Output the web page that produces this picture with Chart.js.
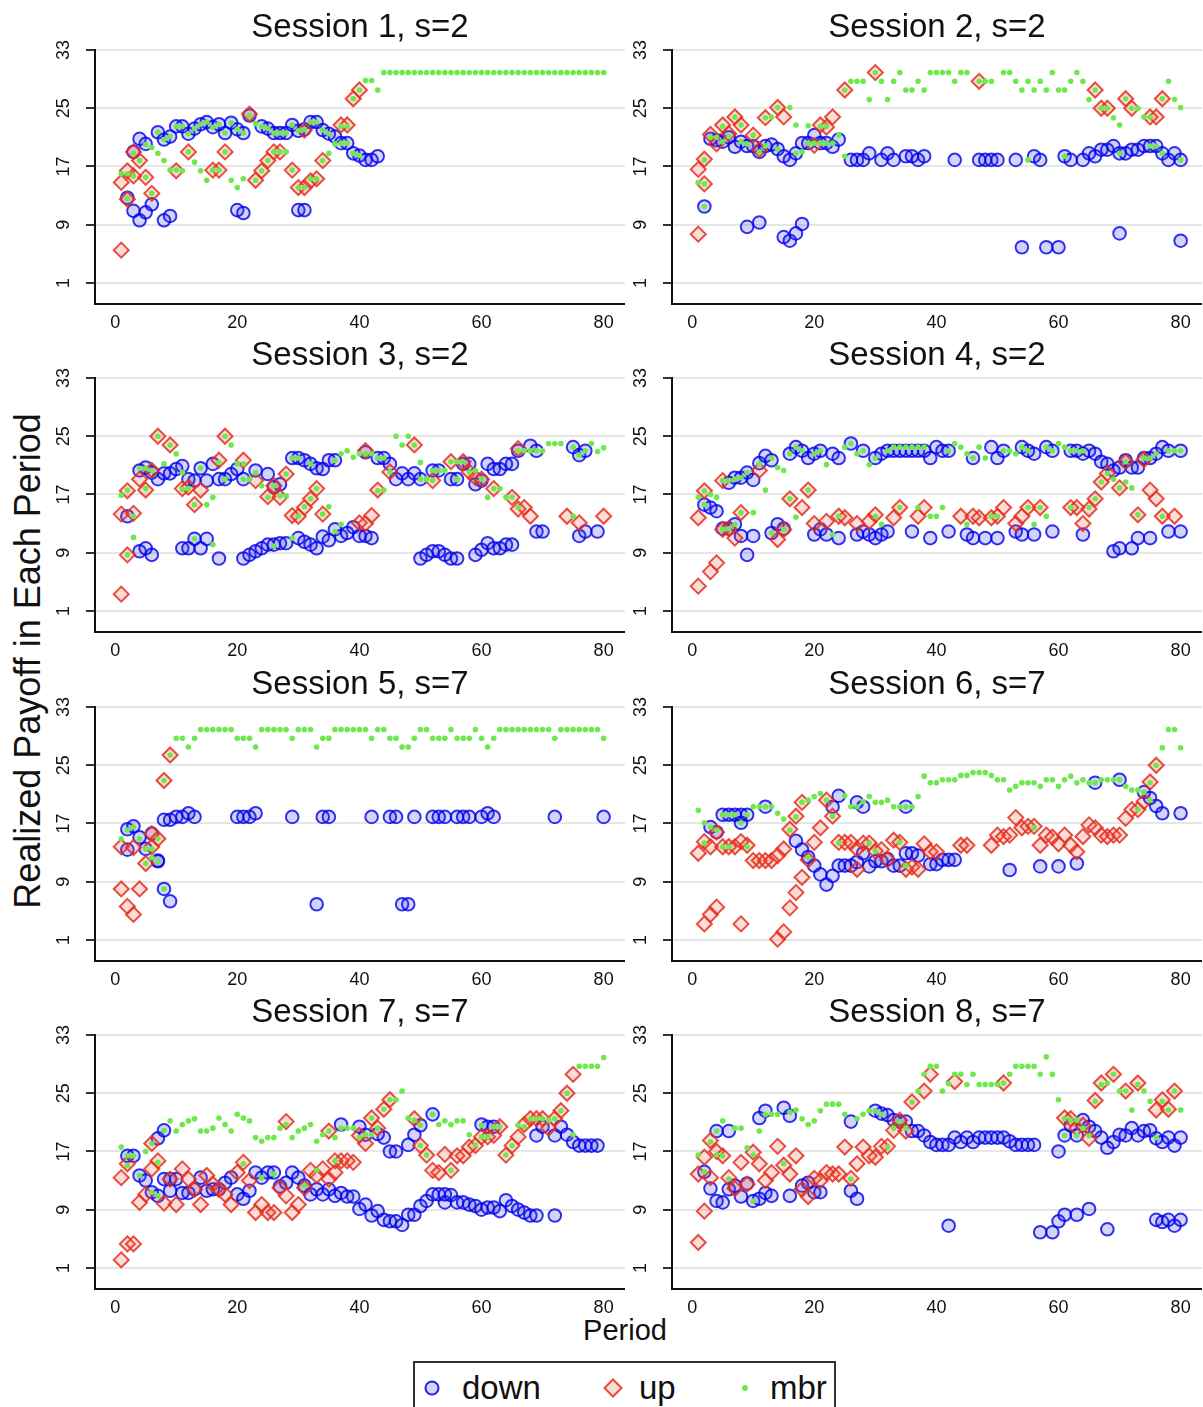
<!DOCTYPE html>
<html>
<head>
<meta charset="utf-8">
<script src="https://cdn.jsdelivr.net/npm/chart.js@4.4.1/dist/chart.umd.min.js"></script>
<style>
  body { margin: 0; background: #fff; width: 1203px; height: 1407px; position: relative; overflow: hidden;
         font-family: "Liberation Sans", Arial, Helvetica, sans-serif; color: #111; }
  .panel { position: absolute; }
  #ylab { position: absolute; left: 28px; top: 661px; transform: translate(-50%, -50%) rotate(-90deg);
          font-size: 36px; white-space: nowrap; }
  #xlab { position: absolute; left: 625px; top: 1330px; transform: translate(-50%, -50%); font-size: 29px; }
  #legend { position: absolute; left: 413px; top: 1361px; width: 419px; height: 60px; border: 2px solid #333; }
  #legend .sym { position: absolute; top: 25px; transform: translate(-50%, -50%); box-sizing: border-box; }
  #legend .txt { position: absolute; top: 25px; transform: translateY(-50%); font-size: 33px; }
  .circ { width: 15px; height: 15px; border-radius: 50%; border: 2px solid rgba(0, 0, 235, 0.85); background: rgba(40, 40, 230, 0.2); }
  .diam { width: 14px; height: 14px; border: 2px solid rgba(228, 48, 30, 0.85); background: rgba(240, 80, 60, 0.2); }
  .dot { width: 6px; height: 6px; border-radius: 50%; background: #6ee84c; }
</style>
</head>
<body>
<div id="ylab">Realized Payoff in Each Period</div>
<div id="xlab">Period</div>
<div id="legend">
  <div class="sym circ" style="left:17px"></div><div class="txt" style="left:47px">down</div>
  <div class="sym diam" style="left:198px;transform:translate(-50%,-50%) rotate(45deg)"></div><div class="txt" style="left:224px">up</div>
  <div class="sym dot" style="left:330px"></div><div class="txt" style="left:355px">mbr</div>
</div>

<script>
// axis ticks
const xTicks = [0, 20, 40, 60, 80];
const yTicks = [1, 9, 17, 25, 33];
const sessionTitles = ['Session 1, s=2', 'Session 2, s=2', 'Session 3, s=2', 'Session 4, s=2',
                       'Session 5, s=7', 'Session 6, s=7', 'Session 7, s=7', 'Session 8, s=7'];

// [period, payoff]
const s1Down = [[2,12.7],[3,19.0],[3,10.9],[4,20.8],[4,9.6],[5,20.1],[5,10.7],[6,11.8],[7,21.7],[8,20.7],[8,9.6],[9,21.1],[9,10.2],[10,22.5],[11,22.5],[12,21.5],[13,22.2],[14,22.8],[15,23.1],[16,22.4],[17,22.8],[18,21.6],[19,23.0],[20,22.1],[20,11.0],[21,21.6],[21,10.6],[22,24.0],[24,22.5],[25,22.2],[26,21.6],[27,21.6],[28,21.6],[29,22.7],[30,21.9],[30,11.0],[31,22.1],[31,11.0],[32,23.1],[33,23.1],[34,22.0],[35,21.5],[36,21.1],[37,20.2],[38,20.2],[39,18.8],[40,18.5],[41,17.9],[42,17.9],[43,18.4]];
const s1Up = [[1,14.8],[1,5.5],[2,16.4],[2,12.5],[3,19.0],[3,15.7],[4,17.8],[5,15.5],[6,13.3],[10,16.4],[12,19.0],[16,16.5],[17,16.5],[18,19.0],[22,24.2],[23,15.1],[24,16.4],[25,17.8],[26,19.0],[27,19.0],[29,16.5],[30,14.1],[31,14.1],[31,22.0],[32,15.0],[33,15.3],[34,17.8],[37,22.7],[38,22.7],[39,26.3],[40,27.5]];
const s1Mbr = [[1,16.0],[2,16.0],[2,12.6],[3,15.7],[3,18.8],[4,17.8],[5,15.5],[5,20.0],[6,19.6],[6,13.3],[7,21.7],[7,18.8],[8,20.7],[8,17.8],[9,21.1],[9,16.5],[10,22.5],[10,16.5],[11,22.5],[11,16.4],[12,21.5],[12,19.0],[13,22.2],[13,17.6],[14,22.8],[14,16.4],[15,23.1],[15,15.1],[16,22.4],[16,16.5],[17,22.8],[17,16.5],[18,21.6],[18,19.0],[19,23.0],[19,15.1],[20,22.1],[20,14.1],[21,21.6],[21,15.3],[22,24.0],[23,22.9],[23,15.1],[24,22.5],[24,16.4],[25,22.2],[25,17.8],[26,21.6],[26,19.0],[27,21.6],[27,19.0],[28,21.6],[28,19.0],[29,22.7],[29,16.5],[30,21.9],[30,14.1],[31,22.1],[31,14.1],[32,23.1],[32,15.3],[33,23.1],[33,15.3],[34,22.0],[34,17.8],[35,21.5],[35,18.8],[36,20.1],[37,20.2],[37,22.5],[38,20.2],[38,22.5],[39,26.3],[39,18.8],[40,27.5],[40,18.5],[41,28.8],[42,28.8],[43,27.5],[44,29.9],[45,29.9],[46,29.9],[47,29.9],[48,29.9],[49,29.9],[50,29.9],[51,29.9],[52,29.9],[53,29.9],[54,29.9],[55,29.9],[56,29.9],[57,29.9],[58,29.9],[59,29.9],[60,29.9],[61,29.9],[62,29.9],[63,29.9],[64,29.9],[65,29.9],[66,29.9],[67,29.9],[68,29.9],[69,29.9],[70,29.9],[71,29.9],[72,29.9],[73,29.9],[74,29.9],[75,29.9],[76,29.9],[77,29.9],[78,29.9],[79,29.9],[80,29.9]];

const s2Down = [[2,11.5],[3,20.8],[4,20.6],[5,20.4],[6,21.0],[7,19.7],[8,20.4],[9,19.8],[9,8.7],[10,19.8],[11,19.0],[11,9.3],[12,19.8],[13,20.0],[14,19.4],[15,18.4],[15,7.3],[16,17.9],[16,6.8],[17,18.8],[17,7.8],[18,20.2],[18,9.1],[19,20.2],[20,21.3],[21,20.2],[22,20.2],[23,19.7],[24,20.7],[26,17.9],[27,17.9],[28,17.9],[29,18.8],[31,17.9],[32,18.8],[33,17.9],[35,18.4],[36,18.4],[37,17.9],[38,18.4],[43,17.9],[47,17.9],[48,17.9],[49,17.9],[50,17.9],[53,17.9],[54,5.9],[56,18.4],[57,17.9],[58,5.9],[60,5.9],[61,18.4],[62,17.9],[64,17.9],[65,18.8],[66,18.4],[67,19.3],[68,19.3],[69,19.8],[70,18.8],[70,7.8],[71,18.8],[72,19.3],[73,19.3],[74,19.8],[75,19.8],[76,19.8],[77,18.8],[78,17.9],[79,18.8],[80,17.9],[80,6.8]];
const s2Up = [[1,16.6],[1,7.7],[2,18.0],[2,14.6],[3,21.4],[4,20.1],[5,22.7],[6,21.5],[7,23.8],[8,22.7],[10,21.3],[11,19.3],[12,23.7],[14,25.1],[15,23.8],[20,19.9],[21,22.7],[22,22.4],[23,23.8],[25,27.5],[30,29.9],[47,28.7],[66,27.5],[67,25.0],[68,25.0],[71,26.3],[72,25.0],[75,23.8],[76,23.8],[77,26.3]];
const s2Mbr = [[1,14.8],[2,14.6],[2,17.9],[2,11.5],[3,21.0],[4,21.0],[5,20.4],[5,22.5],[6,21.1],[7,23.8],[8,20.4],[8,22.7],[9,20.1],[10,21.3],[11,19.0],[12,19.8],[12,23.7],[13,23.8],[14,25.1],[14,19.4],[16,25.1],[17,22.7],[17,18.8],[18,19.0],[19,22.6],[19,20.2],[20,20.2],[21,22.5],[21,20.2],[22,22.5],[22,20.2],[23,20.2],[24,21.3],[25,18.4],[25,27.5],[26,28.7],[27,28.7],[28,28.7],[29,26.2],[30,29.9],[31,28.7],[32,26.2],[33,28.7],[34,29.9],[35,27.5],[36,27.5],[37,28.7],[38,27.5],[39,29.9],[40,29.9],[41,29.9],[42,29.9],[43,28.7],[44,29.9],[45,29.9],[47,28.7],[48,28.7],[49,28.7],[51,29.9],[52,29.9],[53,28.7],[54,27.5],[55,28.7],[55,17.9],[56,27.5],[57,28.7],[58,27.5],[59,29.9],[60,27.5],[61,27.5],[61,18.4],[62,28.7],[63,29.9],[64,28.7],[65,26.2],[66,27.5],[67,25.0],[68,25.0],[69,23.7],[70,22.7],[70,18.8],[71,26.3],[72,25.0],[73,25.0],[74,23.8],[75,19.8],[75,23.8],[76,19.8],[77,26.3],[77,18.8],[78,28.7],[79,26.2],[80,25.1],[80,17.9]];

const s3Down = [[2,14.0],[4,9.2],[4,20.3],[5,9.6],[5,20.7],[6,8.7],[6,20.0],[7,19.1],[8,19.9],[9,19.9],[10,20.5],[11,20.9],[11,9.6],[12,19.1],[12,9.6],[13,18.9],[13,10.9],[14,20.6],[14,9.6],[15,18.9],[15,10.9],[16,21.2],[17,19.1],[17,8.2],[18,19.1],[19,19.8],[20,20.5],[21,19.1],[21,8.2],[22,8.7],[23,20.3],[23,9.2],[24,9.6],[25,19.8],[25,10.1],[26,10.1],[26,18.0],[27,10.3],[27,18.4],[28,10.3],[29,22.0],[30,22.0],[30,11.0],[31,21.7],[31,10.5],[32,21.2],[32,10.1],[33,20.6],[33,9.6],[34,20.5],[34,11.2],[35,21.7],[35,10.7],[36,21.7],[36,12.2],[37,11.3],[38,11.7],[39,12.5],[40,11.3],[41,22.8],[41,11.3],[42,11.0],[43,22.0],[44,22.0],[45,21.2],[46,19.1],[47,19.9],[48,19.1],[49,19.9],[50,19.1],[50,8.2],[51,8.7],[52,20.3],[52,9.2],[53,20.3],[53,9.2],[54,8.7],[55,19.1],[55,8.2],[56,19.1],[56,8.2],[57,21.2],[58,21.2],[59,18.4],[59,8.7],[60,18.9],[60,9.4],[61,21.2],[61,10.3],[62,20.5],[62,9.6],[63,20.5],[63,9.6],[64,21.2],[64,10.1],[65,21.2],[65,10.1],[66,23.0],[68,23.7],[69,23.0],[69,11.9],[70,11.9],[75,23.5],[76,22.4],[76,11.3],[77,23.0],[77,11.9],[79,11.9]];
const s3Up = [[1,14.3],[1,3.3],[2,17.5],[2,8.7],[3,14.4],[4,19.1],[5,17.6],[6,20.3],[7,25.0],[9,23.8],[11,17.8],[12,18.0],[13,15.6],[14,17.6],[17,21.7],[18,25.0],[21,21.7],[23,18.9],[25,16.7],[26,18.2],[27,16.6],[28,19.8],[29,14.1],[30,14.0],[31,15.2],[32,16.4],[33,17.8],[34,14.3],[40,13.1],[41,23.0],[41,13.0],[42,14.1],[43,17.6],[45,20.1],[49,23.8],[52,18.9],[55,21.5],[57,21.5],[58,20.1],[59,19.3],[60,19.1],[62,17.8],[65,16.6],[66,15.0],[66,23.3],[67,15.2],[68,14.0],[74,14.0],[76,13.1],[80,14.0]];
const s3Mbr = [[1,16.9],[2,17.6],[2,8.7],[3,14.0],[3,11.1],[4,20.6],[5,17.8],[5,20.6],[6,20.3],[7,25.0],[8,21.2],[9,23.8],[10,22.6],[11,20.0],[11,17.7],[12,17.8],[13,15.6],[13,10.9],[14,20.6],[15,15.6],[16,16.6],[16,10.1],[17,21.4],[18,25.0],[18,19.1],[19,23.8],[20,21.2],[21,21.2],[21,19.1],[22,19.1],[23,20.0],[24,18.2],[25,16.6],[26,18.2],[26,9.9],[27,16.8],[28,16.8],[28,19.8],[29,11.0],[29,22.0],[30,14.0],[30,22.0],[31,15.3],[32,16.4],[32,21.2],[33,17.8],[34,14.3],[35,15.3],[36,11.9],[36,21.7],[37,12.9],[37,22.6],[38,23.0],[39,22.1],[40,22.6],[41,22.6],[42,22.6],[43,17.5],[43,22.0],[44,17.6],[44,22.0],[45,20.1],[46,25.0],[47,23.8],[48,25.0],[49,23.8],[50,21.4],[50,19.1],[51,19.1],[52,20.3],[52,18.9],[53,20.3],[54,20.3],[55,21.5],[56,21.5],[56,19.1],[57,21.5],[58,20.1],[59,20.3],[60,19.1],[61,16.6],[62,17.8],[63,17.8],[64,16.6],[65,16.6],[66,15.2],[66,23.0],[67,23.0],[68,23.0],[69,23.0],[70,23.0],[71,24.0],[72,24.0],[73,24.0],[75,14.0],[75,23.5],[76,22.4],[77,23.0],[78,24.0],[79,22.9],[80,23.4]];

const s4Down = [[2,15.6],[3,15.2],[4,14.7],[5,12.3],[6,12.3],[6,18.6],[7,12.9],[7,19.3],[8,11.3],[8,19.3],[9,8.7],[9,20.0],[10,11.3],[10,19.0],[11,21.3],[12,22.3],[13,21.7],[13,11.7],[14,12.9],[15,12.3],[16,22.6],[17,23.5],[18,23.0],[19,22.0],[20,22.6],[20,11.5],[21,23.0],[21,12.2],[22,11.5],[23,22.6],[24,22.0],[24,11.0],[26,24.0],[27,11.5],[28,23.0],[28,11.9],[29,11.5],[30,22.0],[30,11.0],[31,22.6],[31,11.5],[32,23.0],[32,11.9],[33,23.0],[34,23.0],[35,23.0],[36,23.0],[36,11.9],[37,23.0],[38,23.0],[39,22.0],[39,11.0],[40,23.5],[41,23.0],[42,23.0],[42,11.9],[45,11.5],[46,22.0],[46,11.0],[48,11.0],[49,23.5],[50,22.0],[50,11.0],[51,23.0],[53,11.9],[54,23.5],[54,11.5],[55,23.0],[56,22.6],[56,11.5],[58,23.5],[59,23.0],[59,11.9],[62,23.0],[63,23.0],[64,22.6],[64,11.5],[65,23.0],[66,22.6],[67,21.5],[68,21.2],[69,20.3],[69,9.2],[70,20.7],[70,9.6],[71,21.7],[72,20.7],[72,9.6],[73,20.7],[73,11.0],[74,22.0],[75,22.0],[75,11.0],[76,22.6],[77,23.5],[78,23.0],[78,11.9],[80,23.0],[80,11.9]];
const s4Up = [[1,13.8],[1,4.4],[2,17.5],[3,6.4],[4,7.6],[5,18.9],[5,12.2],[6,12.3],[7,11.0],[8,14.5],[11,20.3],[14,10.8],[15,12.2],[16,16.4],[18,15.2],[19,17.6],[20,13.0],[22,13.3],[24,14.0],[25,13.8],[27,13.0],[29,13.3],[30,14.2],[33,13.8],[34,15.2],[37,14.0],[38,15.2],[44,14.0],[46,14.0],[47,13.8],[49,13.8],[50,14.0],[51,15.2],[53,13.0],[54,14.0],[55,15.2],[57,15.2],[62,15.2],[63,15.2],[64,13.0],[65,15.0],[66,16.4],[67,18.7],[68,19.9],[70,17.9],[71,21.5],[73,14.2],[74,21.8],[75,17.6],[76,16.4],[77,14.0],[79,14.0]];
const s4Mbr = [[1,16.6],[2,17.5],[2,15.6],[3,17.0],[4,16.6],[5,12.2],[5,18.9],[6,12.3],[6,18.9],[7,19.1],[7,12.9],[8,14.5],[8,19.3],[9,20.0],[10,14.5],[11,21.2],[12,17.6],[13,22.0],[13,11.7],[14,20.7],[15,20.3],[15,12.2],[16,16.4],[16,22.6],[17,13.9],[17,23.5],[18,23.0],[19,17.6],[20,22.6],[21,23.0],[22,21.1],[23,11.5],[24,14.0],[25,23.5],[26,24.0],[27,22.6],[28,23.0],[29,21.1],[30,14.0],[30,22.0],[31,12.9],[32,23.0],[33,23.5],[34,23.5],[34,15.2],[35,23.5],[36,23.5],[37,23.5],[37,15.2],[38,23.5],[39,14.0],[40,14.0],[41,15.2],[42,23.0],[43,24.0],[44,23.5],[45,22.6],[45,12.9],[46,22.0],[47,23.5],[48,22.0],[49,14.0],[50,14.0],[51,23.0],[52,23.0],[53,22.6],[54,23.5],[55,23.0],[55,15.2],[56,12.9],[57,15.2],[58,14.0],[58,23.5],[59,23.0],[60,24.0],[61,23.5],[62,23.0],[62,15.2],[63,23.0],[64,23.0],[65,15.2],[66,16.4],[67,18.7],[68,19.9],[69,19.1],[70,17.9],[71,21.5],[71,18.7],[72,17.9],[73,14.2],[74,22.0],[75,22.0],[76,22.6],[77,14.0],[78,23.0],[79,23.0],[80,23.0]];

const s5Down = [[2,16.2],[2,13.4],[3,16.6],[4,15.1],[5,13.5],[6,15.6],[7,11.8],[7,11.9],[8,17.5],[8,8.0],[9,17.5],[9,6.3],[10,17.9],[11,17.9],[12,18.4],[13,17.9],[20,17.9],[21,17.9],[22,17.9],[23,18.4],[29,17.9],[33,5.9],[34,17.9],[35,17.9],[42,17.9],[45,17.9],[46,17.9],[47,5.9],[48,5.9],[49,17.9],[52,17.9],[53,17.9],[54,17.9],[56,17.9],[57,17.9],[58,17.9],[60,17.9],[61,18.4],[62,17.9],[72,17.9],[80,17.9]];
const s5Up = [[1,13.8],[1,8.0],[2,5.6],[3,4.5],[3,13.7],[4,8.0],[5,11.5],[6,15.6],[6,13.8],[7,14.9],[8,22.9],[9,26.4]];
const s5Mbr = [[1,14.9],[2,16.1],[3,16.5],[4,14.9],[5,13.5],[5,11.5],[6,13.5],[6,12.3],[7,14.9],[7,11.8],[8,22.9],[8,8.0],[9,26.4],[10,28.7],[11,28.7],[12,27.5],[13,28.7],[14,29.9],[15,29.9],[16,29.9],[17,29.9],[18,29.9],[19,29.9],[20,28.7],[21,28.7],[22,28.7],[23,27.5],[24,29.9],[25,29.9],[26,29.9],[27,29.9],[28,29.9],[29,28.7],[30,29.9],[31,29.9],[32,29.9],[33,27.5],[34,28.7],[35,28.7],[36,29.9],[37,29.9],[38,29.9],[39,29.9],[40,29.9],[41,29.9],[42,28.7],[43,29.9],[44,29.9],[45,28.7],[46,28.7],[47,27.5],[48,27.5],[49,28.7],[50,29.9],[51,29.9],[52,28.7],[53,28.7],[54,28.7],[55,29.9],[56,28.7],[57,28.7],[58,28.7],[59,29.9],[60,28.7],[61,27.5],[62,28.7],[63,29.9],[64,29.9],[65,29.9],[66,29.9],[67,29.9],[68,29.9],[69,29.9],[70,29.9],[71,29.9],[72,28.7],[73,29.9],[74,29.9],[75,29.9],[76,29.9],[77,29.9],[78,29.9],[79,29.9],[80,28.7]];

const s6Down = [[3,16.5],[4,15.8],[5,18.2],[6,18.2],[7,18.2],[8,18.2],[8,17.1],[9,18.2],[12,19.3],[17,14.6],[18,13.4],[19,12.4],[20,11.2],[21,10.0],[22,8.6],[23,9.8],[23,19.3],[24,20.8],[24,11.2],[25,11.2],[26,11.2],[27,11.7],[27,19.9],[28,19.3],[28,12.9],[29,11.1],[30,11.8],[31,11.8],[32,12.1],[33,11.2],[34,11.2],[35,12.9],[35,19.3],[36,12.9],[37,12.6],[39,11.4],[40,11.4],[41,12.0],[42,12.0],[43,12.0],[52,10.6],[57,11.1],[60,11.1],[63,11.5],[66,22.6],[70,23.0],[74,21.3],[75,20.5],[76,19.4],[77,18.4],[80,18.4]];
const s6Up = [[1,12.9],[2,14.5],[2,3.2],[3,13.8],[3,4.5],[4,15.8],[4,5.5],[5,13.8],[6,13.8],[7,13.8],[8,14.5],[8,3.2],[9,14.0],[10,11.9],[11,11.9],[12,11.9],[13,11.9],[14,12.6],[14,1.1],[15,13.5],[15,2.1],[16,16.2],[16,5.4],[17,18.0],[17,7.5],[18,19.9],[18,9.6],[19,12.0],[20,14.4],[21,16.4],[22,20.2],[23,18.0],[24,14.4],[25,14.4],[26,14.4],[27,13.5],[27,10.7],[28,14.3],[29,14.3],[30,13.2],[31,13.4],[32,12.0],[33,14.7],[34,14.4],[35,10.7],[36,11.0],[37,10.7],[38,14.2],[39,13.1],[40,13.1],[44,14.0],[45,14.0],[49,14.0],[50,15.4],[51,15.2],[52,15.4],[53,17.8],[54,16.4],[55,16.6],[56,16.6],[57,14.0],[58,15.4],[59,15.1],[60,14.2],[61,15.4],[62,14.0],[63,13.1],[64,15.2],[65,16.8],[66,16.4],[67,15.4],[68,15.2],[69,15.4],[70,15.4],[71,17.7],[72,18.9],[73,18.9],[74,20.0],[75,22.7],[76,25.0]];
const s6Mbr = [[1,18.8],[2,17.1],[2,14.3],[3,16.5],[4,16.1],[5,13.8],[5,18.2],[6,13.8],[6,18.2],[7,18.2],[8,17.1],[9,13.8],[9,18.2],[10,19.3],[11,19.3],[12,19.3],[13,19.3],[14,18.4],[15,17.6],[16,16.1],[17,17.9],[18,19.9],[19,12.4],[19,20.2],[20,20.7],[21,21.1],[22,20.2],[23,18.0],[24,14.3],[25,20.8],[26,19.3],[27,19.3],[28,20.0],[29,20.7],[29,14.3],[30,19.9],[30,13.2],[31,19.9],[32,20.2],[33,19.3],[34,19.3],[34,14.4],[35,19.3],[35,11.2],[36,19.3],[37,20.7],[38,23.5],[39,22.6],[40,22.6],[41,23.0],[42,23.0],[43,23.0],[44,23.6],[45,23.6],[46,24.0],[47,24.0],[48,24.0],[49,23.6],[50,23.0],[51,23.0],[52,21.6],[53,22.1],[54,22.6],[55,22.6],[56,22.6],[56,16.4],[57,22.1],[58,23.0],[59,23.0],[60,22.1],[61,23.0],[62,23.5],[63,22.6],[64,23.0],[65,22.6],[66,22.6],[67,23.0],[68,23.0],[69,23.0],[70,23.0],[71,22.1],[72,21.6],[73,21.6],[73,18.9],[74,21.3],[75,22.6],[75,20.2],[76,25.0],[77,27.4],[78,29.9],[79,29.9],[80,27.4]];

const s7Down = [[2,16.4],[3,16.4],[4,13.7],[5,13.0],[6,11.4],[7,10.9],[7,18.8],[8,19.9],[8,13.2],[9,11.6],[9,13.2],[10,13.2],[11,11.3],[12,11.3],[13,11.8],[14,13.4],[15,11.6],[16,11.8],[17,11.8],[18,12.7],[19,13.4],[20,11.1],[21,10.5],[22,11.6],[23,14.1],[24,13.4],[25,14.1],[26,14.1],[27,12.2],[28,12.7],[29,14.1],[30,13.4],[31,12.3],[32,11.1],[33,11.8],[34,11.1],[35,11.8],[36,10.9],[37,11.3],[37,20.7],[38,10.8],[39,10.8],[40,9.1],[40,20.4],[41,9.7],[41,19.3],[42,8.2],[43,8.8],[43,19.4],[44,7.6],[44,18.9],[45,7.4],[45,17.0],[46,7.4],[46,17.0],[47,6.9],[48,8.3],[48,17.9],[49,8.3],[49,19.3],[50,9.5],[50,20.6],[51,10.2],[52,11.1],[52,22.1],[53,11.1],[54,10.0],[54,11.1],[55,11.0],[56,10.0],[57,10.0],[58,9.7],[59,9.5],[60,9.0],[60,20.7],[61,9.3],[61,20.4],[62,9.3],[62,20.4],[63,8.8],[64,10.3],[65,9.5],[66,9.0],[67,8.6],[68,8.2],[69,8.2],[69,19.2],[70,20.4],[72,8.2],[72,19.2],[73,20.4],[74,19.3],[75,18.3],[76,17.8],[77,17.8],[78,17.8],[79,17.8]];
const s7Up = [[1,13.4],[1,2.1],[2,15.3],[2,4.3],[3,4.3],[4,10.0],[5,11.1],[6,18.1],[6,14.6],[7,15.7],[8,9.9],[9,13.2],[10,9.7],[11,14.6],[12,13.2],[13,11.8],[14,9.7],[15,13.7],[16,12.5],[17,11.8],[18,11.1],[19,9.7],[20,14.1],[21,15.5],[22,13.0],[23,8.6],[24,9.7],[25,8.6],[26,8.6],[27,12.0],[28,21.1],[28,10.9],[29,8.6],[30,9.7],[31,12.0],[32,14.4],[33,13.7],[34,14.6],[35,19.8],[35,13.2],[36,15.7],[36,14.1],[37,15.7],[38,15.7],[39,15.5],[40,19.2],[41,18.1],[42,21.6],[43,20.2],[44,22.8],[45,24.1],[49,21.5],[50,17.8],[51,16.5],[52,14.4],[53,14.1],[54,16.6],[55,14.4],[56,16.4],[57,16.4],[58,17.6],[59,17.8],[60,19.0],[61,19.0],[62,19.2],[63,20.4],[64,16.5],[65,17.8],[66,19.0],[67,20.7],[68,21.5],[69,21.5],[70,21.5],[71,20.2],[72,21.5],[73,22.6],[74,25.0],[75,27.6]];
const s7Mbr = [[1,17.6],[2,15.1],[2,16.4],[3,16.4],[4,13.7],[5,17.0],[6,11.4],[6,18.1],[7,15.5],[7,10.9],[8,19.9],[9,21.2],[10,19.8],[11,20.7],[12,21.2],[13,21.5],[14,19.8],[15,19.8],[16,20.2],[17,21.6],[18,20.7],[19,19.8],[20,22.1],[21,21.6],[21,15.3],[22,21.2],[23,18.9],[24,18.4],[24,13.4],[25,18.9],[26,18.9],[26,13.9],[27,20.2],[28,20.7],[29,18.9],[30,19.8],[31,20.2],[31,12.3],[32,20.7],[33,18.4],[33,14.4],[34,19.3],[35,19.8],[36,18.9],[36,15.7],[37,20.2],[38,20.2],[39,20.2],[40,18.9],[41,19.3],[42,19.3],[42,21.6],[43,20.2],[44,22.8],[45,24.1],[46,24.1],[47,25.3],[48,21.6],[49,21.3],[50,17.8],[50,20.6],[51,16.5],[52,22.1],[53,20.7],[54,21.2],[55,20.7],[55,14.4],[56,21.2],[57,21.2],[58,19.3],[59,17.9],[60,19.0],[60,20.6],[61,19.0],[62,20.4],[63,20.4],[64,16.5],[65,17.8],[66,20.6],[67,20.4],[68,21.5],[69,21.5],[70,21.5],[71,21.3],[72,21.5],[73,22.6],[74,25.0],[75,19.3],[76,28.7],[77,28.7],[78,28.7],[79,28.7],[80,29.9]];

const s8Down = [[2,14.2],[3,11.9],[4,19.8],[4,10.2],[5,10.0],[6,19.8],[6,11.8],[7,12.3],[8,10.8],[9,12.6],[10,10.2],[11,21.6],[11,10.5],[12,22.6],[12,11.3],[13,10.9],[15,23.0],[16,21.9],[16,10.9],[18,12.3],[19,12.7],[20,11.4],[21,11.4],[26,21.1],[26,11.6],[27,10.5],[30,22.6],[31,22.2],[32,22.0],[33,21.3],[34,21.1],[35,21.1],[36,19.8],[37,19.8],[38,19.2],[39,18.3],[40,17.9],[41,17.9],[42,17.9],[42,6.8],[43,18.9],[44,18.3],[45,18.9],[46,18.3],[47,18.9],[48,18.9],[49,18.9],[50,18.9],[51,18.9],[52,18.4],[53,17.9],[54,17.9],[55,17.9],[56,17.9],[57,5.9],[59,5.9],[60,17.0],[60,7.4],[61,19.2],[61,8.3],[62,20.6],[63,19.2],[63,8.3],[64,21.3],[65,9.1],[65,20.4],[66,19.8],[67,18.9],[68,17.5],[68,6.3],[69,18.3],[70,19.3],[71,19.2],[72,20.2],[73,19.2],[74,19.8],[75,19.9],[76,18.8],[76,7.6],[77,18.3],[77,7.3],[78,18.9],[78,7.6],[79,17.8],[79,6.8],[80,18.9],[80,7.6]];
const s8Up = [[1,13.9],[1,4.5],[2,16.2],[2,8.8],[3,18.5],[3,13.4],[4,17.0],[5,16.4],[6,13.4],[7,11.9],[8,15.5],[9,12.5],[10,16.9],[11,15.3],[12,13.0],[13,14.1],[14,17.7],[15,15.1],[16,13.9],[17,16.4],[18,11.8],[19,10.8],[20,13.3],[21,13.0],[22,14.1],[23,13.9],[24,13.9],[25,17.6],[26,13.3],[27,15.3],[28,17.6],[29,16.4],[30,16.2],[31,17.7],[32,17.7],[33,19.9],[34,21.3],[35,19.8],[36,23.8],[38,25.3],[39,27.6],[43,26.6],[51,26.4],[61,21.6],[62,21.5],[63,20.2],[64,20.6],[65,18.8],[66,24.0],[67,26.4],[69,27.6],[71,25.3],[73,26.4],[76,22.7],[77,24.1],[78,22.8],[79,25.3]];
const s8Mbr = [[1,16.5],[2,14.2],[3,18.3],[4,16.5],[4,19.8],[5,21.2],[5,16.4],[6,13.2],[7,20.2],[8,20.2],[9,17.5],[10,16.5],[10,10.2],[11,19.8],[12,22.1],[13,22.1],[14,22.1],[15,15.3],[16,22.4],[17,22.7],[18,21.5],[19,20.7],[20,21.2],[21,22.6],[22,23.5],[23,23.5],[24,23.5],[25,22.1],[26,13.2],[27,21.5],[28,22.1],[29,22.6],[30,22.6],[31,22.1],[32,17.6],[33,20.2],[34,21.1],[35,20.2],[36,23.8],[37,25.3],[38,27.6],[39,28.7],[40,28.7],[41,25.3],[42,26.3],[43,27.6],[44,27.6],[45,26.2],[46,27.6],[47,26.2],[48,26.2],[49,26.2],[50,26.2],[51,26.4],[52,27.6],[53,28.7],[54,28.7],[55,28.7],[56,28.7],[57,27.6],[58,30.0],[59,27.6],[60,24.1],[61,21.5],[61,19.2],[62,21.3],[63,21.3],[63,19.2],[64,20.2],[65,19.2],[66,23.9],[67,26.2],[68,26.4],[69,27.6],[70,25.3],[71,25.3],[72,22.7],[73,26.2],[74,25.3],[75,23.9],[76,18.9],[77,23.9],[78,22.7],[79,25.3],[80,22.7]];

const sessions = [
  [s1Down, s1Up, s1Mbr], [s2Down, s2Up, s2Mbr], [s3Down, s3Up, s3Mbr], [s4Down, s4Up, s4Mbr],
  [s5Down, s5Up, s5Mbr], [s6Down, s6Up, s6Mbr], [s7Down, s7Up, s7Mbr], [s8Down, s8Up, s8Mbr]
];

const FONT = '"Liberation Sans", Arial, Helvetica, sans-serif';
const colLeft = [95, 672];
const rowTop = [50, 378, 707, 1035];
const plotW = 530, plotH = 254;
const padL = 80, padT = 50, padB = 35;

const toXY = pts => pts.map(p => ({ x: p[0], y: p[1] }));

// title above each plot and rotated y tick labels
const panelText = {
  id: 'panelText',
  afterDraw(chart, args, opts) {
    const { ctx, chartArea, scales } = chart;
    ctx.save();
    ctx.fillStyle = '#111';
    ctx.textAlign = 'center';
    ctx.textBaseline = 'middle';
    ctx.font = '33px ' + FONT;
    ctx.fillText(opts.title, (chartArea.left + chartArea.right) / 2, chartArea.top - 22);
    ctx.font = '18px ' + FONT;
    yTicks.forEach(v => {
      const y = scales.y.getPixelForValue(v);
      ctx.save();
      ctx.translate(chartArea.left - 31, y);
      ctx.rotate(-Math.PI / 2);
      ctx.fillText(String(v), 0, 0);
      ctx.restore();
    });
    ctx.restore();
  }
};

sessions.forEach((s, i) => {
  const col = i % 2, row = Math.floor(i / 2);
  const div = document.createElement('div');
  div.className = 'panel';
  div.style.left = (colLeft[col] - padL) + 'px';
  div.style.top = (rowTop[row] - padT) + 'px';
  const canvas = document.createElement('canvas');
  canvas.width = padL + plotW;
  canvas.height = padT + plotH + padB;
  div.appendChild(canvas);
  document.body.appendChild(div);

  new Chart(canvas, {
    type: 'scatter',
    data: {
      datasets: [
        { label: 'mbr', data: toXY(s[2]), pointStyle: 'circle', pointRadius: 2.8,
          backgroundColor: '#6ee84c', borderWidth: 0, order: 0 },
        { label: 'up', data: toXY(s[1]), pointStyle: 'rectRot', pointRadius: 7.5,
          backgroundColor: 'rgba(240, 80, 60, 0.2)', borderColor: 'rgba(228, 48, 30, 0.85)', borderWidth: 2, order: 1 },
        { label: 'down', data: toXY(s[0]), pointStyle: 'circle', pointRadius: 6.3,
          backgroundColor: 'rgba(40, 40, 230, 0.2)', borderColor: 'rgba(0, 0, 235, 0.8)', borderWidth: 2, order: 2 }
      ]
    },
    options: {
      responsive: false,
      animation: false,
      events: [],
      layout: { padding: { top: padT, left: 0, right: 0, bottom: 0 }, autoPadding: false },
      plugins: {
        legend: { display: false },
        tooltip: { enabled: false },
        panelText: { title: sessionTitles[i] }
      },
      scales: {
        x: {
          type: 'linear', min: -3.3, max: 83.5,
          afterBuildTicks: sc => { sc.ticks = xTicks.map(v => ({ value: v })); },
          afterFit: sc => { sc.height = padB; },
          grid: { display: false, drawTicks: false },
          border: { color: '#111', width: 2 },
          ticks: { padding: 8, color: '#111', maxRotation: 0, font: { size: 18, family: FONT } }
        },
        y: {
          type: 'linear', min: -1.9, max: 33,
          afterBuildTicks: sc => { sc.ticks = yTicks.map(v => ({ value: v })); },
          afterFit: sc => { sc.width = padL; },
          grid: { color: '#e6e6e6', lineWidth: 2, tickColor: '#333', tickLength: 9, drawTicks: true },
          border: { color: '#111', width: 2 },
          ticks: { display: false }
        }
      }
    },
    plugins: [panelText]
  });
});
</script>
</body>
</html>
